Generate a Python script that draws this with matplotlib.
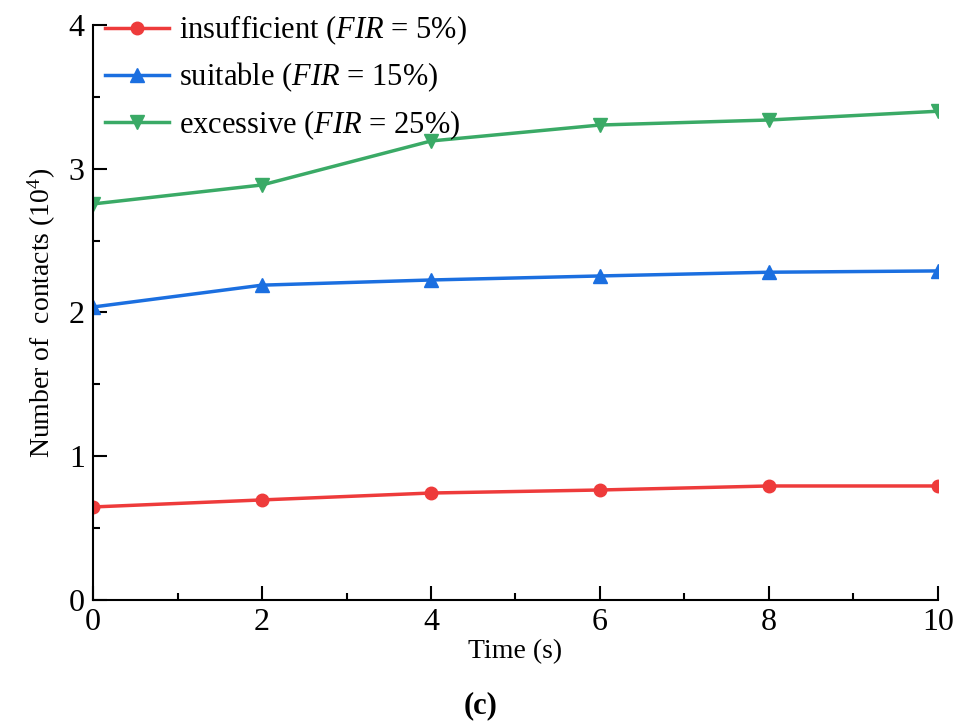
import matplotlib
matplotlib.use('Agg')
import matplotlib.pyplot as plt
from matplotlib.ticker import MultipleLocator

# Data (contacts in units of 10^4)
time_s = [0, 2, 4, 6, 8, 10]
insufficient = [0.647, 0.696, 0.744, 0.765, 0.793, 0.793]
suitable = [2.038, 2.190, 2.226, 2.254, 2.280, 2.289]
excessive = [2.755, 2.887, 3.193, 3.304, 3.339, 3.400]

labels = [r'insufficient ($\it{FIR}$ = 5%)',
          r'suitable ($\it{FIR}$ = 15%)',
          r'excessive ($\it{FIR}$ = 25%)']

plt.rcParams['font.family'] = 'Liberation Serif'
plt.rcParams['mathtext.fontset'] = 'custom'
plt.rcParams['mathtext.rm'] = 'Liberation Serif'
plt.rcParams['mathtext.it'] = 'Liberation Serif:italic'

red = '#EE3B3B'
blue = '#1B6FE0'
green = '#3AAA66'

fig = plt.figure(figsize=(9.62, 7.26), dpi=100)
ax = fig.add_axes([0.0967, 0.1736, 0.8783, 0.792])

ax.plot(time_s, insufficient, color=red, lw=2.5, marker='o', ms=9, label=labels[0])
ax.plot(time_s, suitable, color=blue, lw=2.5, marker='^', ms=10, label=labels[1])
ax.plot(time_s, excessive, color=green, lw=2.5, marker='v', ms=10, label=labels[2])

ax.set_xlim(0, 10)
ax.set_ylim(0, 4)
ax.xaxis.set_major_locator(MultipleLocator(2))
ax.xaxis.set_minor_locator(MultipleLocator(1))
ax.yaxis.set_major_locator(MultipleLocator(1))
ax.yaxis.set_minor_locator(MultipleLocator(0.5))

for s in ['top', 'right']:
    ax.spines[s].set_visible(False)
for s in ['left', 'bottom']:
    ax.spines[s].set_linewidth(1.5)

ax.tick_params(which='major', direction='in', length=10, width=1.5, labelsize=23, pad=6)
ax.tick_params(which='minor', direction='in', length=5, width=1.5)

ax.set_xlabel('Time (s)', fontsize=20, labelpad=1)
ax.set_ylabel(r'Number of  contacts (10$^{4}$)', fontsize=20, labelpad=8)

leg = ax.legend(loc='upper left', bbox_to_anchor=(0.0, 1.041), frameon=False,
                fontsize=22, handlelength=2.1, handletextpad=0.3,
                labelspacing=0.45, borderaxespad=0.0)

fig.text(0.5, 0.028, '(c)', ha='center', va='center', fontsize=22, fontweight='bold')

plt.savefig('out.png', dpi=100, facecolor='white')
plt.close()
